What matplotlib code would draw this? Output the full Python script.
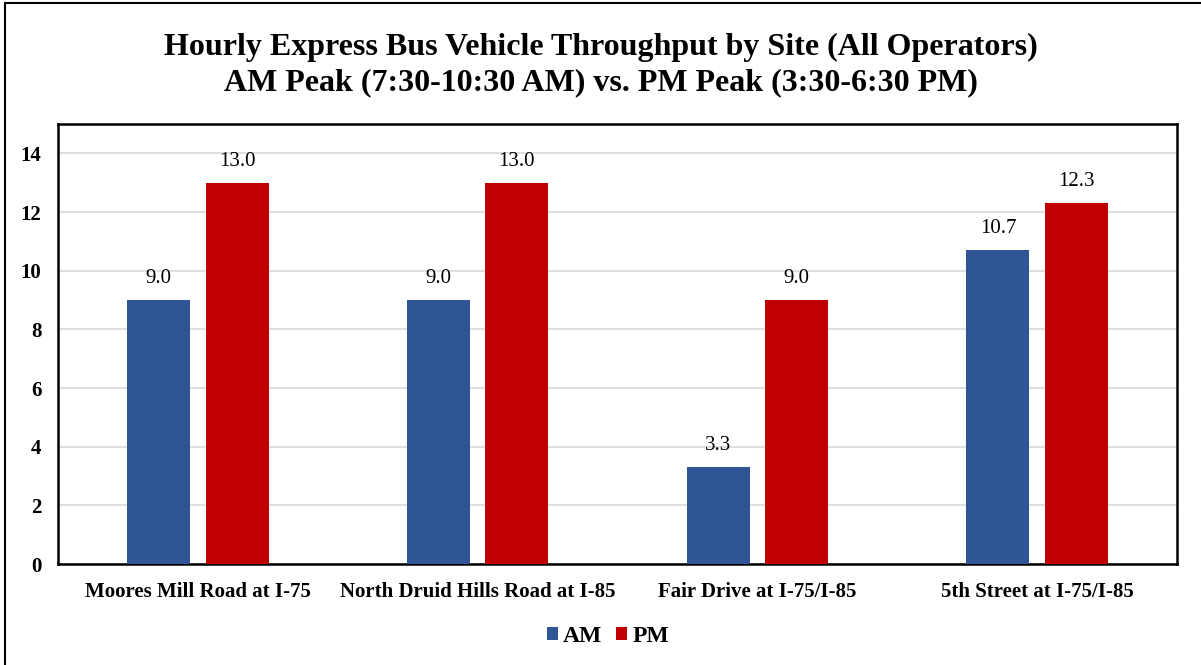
import numpy as np
from matplotlib import pyplot as plt
from matplotlib.lines import Line2D

sites = ['Moores Mill Road at I-75', 'North Druid Hills Road at I-85',
         'Fair Drive at I-75/I-85', '5th Street at I-75/I-85']
am_values = [9.0, 9.0, 3.3, 10.7]
pm_values = [13.0, 13.0, 9.0, 12.3]

plt.rcParams['font.family'] = ['Liberation Serif', 'DejaVu Serif']

fig = plt.figure(figsize=(12.01, 6.65), dpi=100)
ax = fig.add_axes([58/1201, 1-564/665, (1177-58)/1201, (564-124)/665])

x = np.arange(len(sites))
w = 0.225
off = 0.14
b1 = ax.bar(x - off, am_values, w, color='#2F5597', zorder=3, label='AM')
b2 = ax.bar(x + off, pm_values, w, color='#C00000', zorder=3, label='PM')

for bars in (b1, b2):
    for b in bars:
        ax.text(b.get_x() + b.get_width()/2, b.get_height() + 0.4,
                f'{b.get_height():.1f}', ha='center', va='bottom', fontsize=15)

ax.set_xlim(-0.5, 3.5)
ax.set_ylim(0, 15)
ax.set_yticks(range(0, 15, 2))
ax.set_xticks(x)
ax.set_xticklabels(sites, fontweight='bold', fontsize=15)
for t in ax.get_yticklabels():
    t.set_fontweight('bold')
    t.set_fontsize(15)
ax.tick_params(length=0)
ax.tick_params(axis='x', pad=13)
ax.tick_params(axis='y', pad=12)
ax.yaxis.grid(True, color='#D9D9D9', linewidth=1.2, zorder=0)
for s in ax.spines.values():
    s.set_linewidth(1.8)
    s.set_color('black')

fig.text(0.5, 1-47/665, 'Hourly Express Bus Vehicle Throughput by Site (All Operators)',
         ha='center', va='center', fontsize=23, fontweight='bold')
fig.text(0.5, 1-83/665, 'AM Peak (7:30-10:30 AM) vs. PM Peak (3:30-6:30 PM)',
         ha='center', va='center', fontsize=23, fontweight='bold')

fig.legend(handles=[b1, b2], loc='center', bbox_to_anchor=(608/1201, 1-636/665), ncol=2,
           frameon=False, prop={'weight': 'bold', 'size': 17},
           handlelength=0.47, handleheight=0.47, handletextpad=0.22, columnspacing=0.6)

# outer chart border (left and top edges visible)
fig.add_artist(Line2D([5/1201, 5/1201], [0, 1-3/665], color='black', linewidth=1.5))
fig.add_artist(Line2D([5/1201, 1], [1-3/665, 1-3/665], color='black', linewidth=1.5))

fig.savefig('out.png', dpi=100)
